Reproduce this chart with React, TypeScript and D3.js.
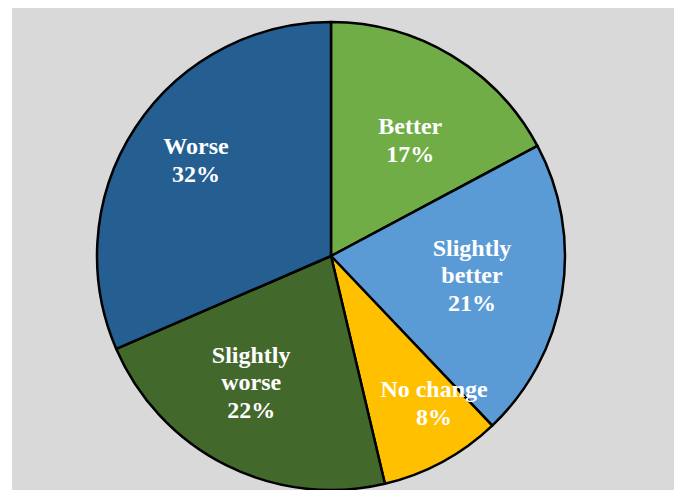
import React from "react";
import * as d3 from "d3";

const categories = ["Better", "Slightly better", "No change", "Slightly worse", "Worse"];
const values = [17.2, 20.7, 8.4, 22.2, 31.5];
const labelLines = [["Better", "17%"], ["Slightly", "better", "21%"], ["No change", "8%"], ["Slightly", "worse", "22%"], ["Worse", "32%"]];
const colors = ["#70AD47", "#5B9BD5", "#FFC000", "#43682B", "#255E91"];
const labelRadiusFactor = [0.6, 0.608, 0.767, 0.638, 0.708];
const labelAngleShiftDeg = [3.4, -1.5, -6.6, 5.7, 2.1];

export default function App() {
  const W = 674, H = 490;
  const cx = 331, cy = 256, r = 234;
  const pie = d3.pie<number>().value((d) => d).sort(null).startAngle(0).endAngle(2 * Math.PI);
  const arcs = pie(values);
  const arc = d3.arc<d3.PieArcDatum<number>>().innerRadius(0).outerRadius(r);
  const fontSize = 24;
  const lh = 27.5;
  return (
    <svg width={W} height={H} style={{ position: "absolute", left: 0, top: 0 }}>
      <rect x={12} y={8} width={W - 12} height={H - 8} fill="#D9D9D9" />
      <g transform={`translate(${cx},${cy})`}>
        {arcs.map((a, i) => (
          <path key={categories[i]} d={arc(a) || ""} fill={colors[i]} stroke="#000" strokeWidth={2.5} strokeLinejoin="round" />
        ))}
        {arcs.map((a, i) => {
          const mid = (a.startAngle + a.endAngle) / 2 + (labelAngleShiftDeg[i] * Math.PI) / 180;
          const lr = r * labelRadiusFactor[i];
          const x = Math.sin(mid) * lr;
          const y = -Math.cos(mid) * lr;
          const lines = labelLines[i];
          const y0 = y - ((lines.length - 1) * lh) / 2;
          return (
            <text key={"l" + i} x={x} y={y0} textAnchor="middle" dominantBaseline="central" fill="#fff"
              fontFamily="'Liberation Serif', 'Times New Roman', serif" fontWeight="bold" fontSize={fontSize}>
              {lines.map((t, j) => (
                <tspan key={j} x={x} y={y0 + j * lh}>{t}</tspan>
              ))}
            </text>
          );
        })}
      </g>
    </svg>
  );
}
